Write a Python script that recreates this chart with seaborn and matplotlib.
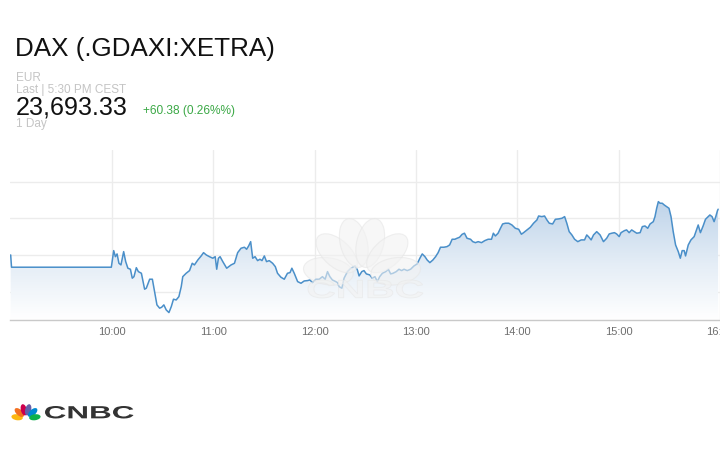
import numpy as np
import pandas as pd
import matplotlib
matplotlib.use("Agg")
import matplotlib.pyplot as plt
import seaborn as sns
import matplotlib.transforms as mtransforms
from matplotlib.colors import LinearSegmentedColormap
from matplotlib.patches import Ellipse, PathPatch, Polygon
from matplotlib.textpath import TextPath
from matplotlib.font_manager import FontProperties

# ---------------- data ----------------
title = "DAX (.GDAXI:XETRA)"
currency = "EUR"
last_label = "Last | 5:30 PM CEST"
last_price = "23,693.33"
change_label = "+60.38 (0.26%%)"
period_label = "1 Day"

# minutes after 09:00
minutes = [0, 0.5, 59.6, 61.0, 62.0, 63.0, 64.1, 65.3, 66.9, 68.1, 69.4, 70.9, 72.0, 73.0, 74.4, 75.6, 77.4,
           79.3, 80.3, 82.3, 83.9, 85.2, 86.6, 88.2, 89.4, 90.7, 92.1, 93.7, 95.1, 96.4, 98.0, 99.6, 101.0,
           101.9, 103.9, 105.9, 107.5, 108.8, 110.8, 112.8, 114.2, 115.8, 117.7, 119.7, 121.1, 122.0, 123.0,
           124.0, 125.6, 127.9, 130.5, 132.5, 134.4, 136.4, 138.4, 139.7, 140.9, 142.1, 143.3, 144.7, 146.2,
           147.6, 148.8, 150.2, 151.5, 153.1, 155.1, 156.7, 158.0, 160.0, 162.0, 163.9, 165.4, 166.5, 167.9,
           169.9, 171.9, 173.8, 175.8, 177.2, 178.7, 180.7, 182.7, 184.6, 186.2, 187.6, 189.0, 190.5, 192.5,
           193.5, 194.5, 196.1, 197.4, 199.4, 201.4, 203.9, 205.3, 206.3, 207.9, 209.2, 210.6, 212.6, 214.1,
           215.7, 217.1, 218.5, 220.1, 222.1, 223.6, 225.0, 226.4, 228.3, 229.9, 231.5, 232.9, 234.8, 236.8,
           238.8, 240.7, 242.3, 243.7, 245.3, 246.6, 248.2, 250.0, 251.6, 253.1, 254.5, 256.5, 258.4, 259.9,
           261.4, 263.0, 264.3, 265.8, 267.3, 268.7, 270.2, 272.3, 273.6, 275.2, 276.8, 278.8, 280.7, 282.7,
           284.7, 285.8, 287.0, 288.6, 290.0, 291.3, 292.9, 294.9, 296.8, 298.8, 300.8, 302.4, 303.7, 305.7,
           307.7, 309.6, 311.6, 312.6, 314.5, 316.1, 317.5, 318.9, 320.9, 322.5, 324.4, 326.4, 328.0, 329.3,
           330.7, 332.3, 333.9, 335.8, 337.8, 339.8, 341.1, 342.1, 343.7, 345.1, 347.0, 349.0, 351.0, 352.9,
           354.4, 355.9, 357.5, 358.8, 360.3, 361.4, 363.4, 364.7, 366.2, 367.7, 369.3, 370.7, 372.7, 374.0,
           375.6, 377.2, 378.6, 380.5, 381.5, 382.5, 383.5, 384.5, 385.8, 387.0, 388.4, 389.8, 391.0, 392.3,
           393.7, 395.3, 396.5, 397.6, 398.8, 399.6, 401.2, 402.8, 404.7, 406.1, 407.1, 408.4, 410.0, 411.4,
           413.0, 414.0, 415.3, 416.5, 417.5, 418.5, 418.9]

prices = [23640.0, 23626.6, 23626.6, 23644.7, 23638.1, 23641.1, 23630.9, 23629.1, 23643.6, 23632.7, 23625.5,
          23624.4, 23614.6, 23616.3, 23626.1, 23621.8, 23620.0, 23602.6, 23603.7, 23613.5, 23613.5, 23600.0,
          23585.5, 23581.9, 23582.9, 23585.5, 23580.0, 23577.1, 23583.6, 23591.7, 23590.9, 23594.5, 23605.4,
          23616.3, 23620.0, 23622.9, 23630.9, 23629.1, 23634.5, 23638.9, 23642.5, 23640.0, 23638.1, 23636.4,
          23638.1, 23624.4, 23636.4, 23638.1, 23632.7, 23625.5, 23629.1, 23630.9, 23642.5, 23647.3, 23648.4,
          23646.2, 23649.8, 23654.5, 23636.4, 23638.1, 23633.8, 23635.3, 23633.8, 23638.9, 23632.7, 23633.8,
          23630.9, 23627.2, 23620.0, 23615.7, 23613.5, 23620.0, 23620.7, 23625.5, 23620.0, 23610.9, 23609.1,
          23611.6, 23612.0, 23612.7, 23609.8, 23613.5, 23613.5, 23616.3, 23613.5, 23621.8, 23616.3, 23612.7,
          23610.9, 23609.8, 23605.4, 23603.7, 23614.6, 23621.8, 23625.5, 23628.0, 23623.6, 23617.1, 23621.8,
          23622.9, 23619.3, 23618.2, 23614.6, 23616.3, 23610.9, 23616.3, 23620.0, 23621.8, 23624.4, 23619.3,
          23620.0, 23621.8, 23624.4, 23622.9, 23624.4, 23622.9, 23624.4, 23628.0, 23630.2, 23636.4, 23641.1,
          23638.1, 23634.5, 23631.6, 23634.5, 23638.1, 23642.5, 23648.4, 23648.4, 23649.1, 23650.9, 23657.1,
          23657.1, 23658.2, 23659.3, 23662.5, 23663.7, 23658.2, 23657.1, 23654.5, 23653.4, 23654.5, 23653.4,
          23655.6, 23657.1, 23657.1, 23663.7, 23660.7, 23663.7, 23669.1, 23673.8, 23674.6, 23674.6, 23672.7,
          23669.1, 23668.0, 23662.6, 23664.3, 23667.3, 23670.2, 23674.6, 23678.2, 23682.5, 23681.8, 23682.5,
          23678.2, 23674.6, 23673.8, 23678.9, 23679.3, 23680.0, 23681.8, 23674.6, 23665.4, 23661.8, 23657.1,
          23654.5, 23656.4, 23656.4, 23661.8, 23660.0, 23656.4, 23661.8, 23665.4, 23661.8, 23654.5, 23658.2,
          23662.9, 23663.7, 23664.3, 23662.9, 23660.0, 23664.3, 23666.5, 23667.3, 23664.3, 23667.3, 23665.4,
          23663.7, 23664.3, 23670.9, 23671.6, 23669.1, 23673.8, 23676.3, 23681.8, 23690.9, 23698.2, 23696.4,
          23696.4, 23694.5, 23692.7, 23690.9, 23681.8, 23665.4, 23650.9, 23643.6, 23636.4, 23644.7, 23644.7,
          23638.9, 23650.9, 23656.4, 23660.0, 23667.3, 23672.7, 23664.3, 23671.6, 23678.9, 23681.8, 23683.6,
          23681.8, 23676.3, 23681.8, 23688.3, 23689.9]

hour_ticks = [60, 120, 180, 240, 300, 360, 420]
hour_labels = ["10:00", "11:00", "12:00", "13:00", "14:00", "15:00", "16:00"]
grid_levels = [23600, 23640, 23680, 23720]

# ---------------- style ----------------
sns.set_theme(style="white")
plt.rcParams["font.family"] = ["Liberation Sans", "DejaVu Sans"]

W, H = 720, 450
fig = plt.figure(figsize=(7.2, 4.5), dpi=100)
fig.patch.set_facecolor("white")
ax = fig.add_axes([10 / W, 130 / H, 710 / W, 170 / H])
ax.set_facecolor("white")

xmin, xmax = -0.4, 419.0
ymin, ymax = 23569.0, 23754.5

df = pd.DataFrame({"minute": minutes, "price": prices})

# gradient fill under the line
cmap = LinearSegmentedColormap.from_list("fill", ["#ffffff", "#e4edf6", "#c2d6eb", "#b3cbe5"])
grad = np.linspace(0, 1, 256).reshape(-1, 1)
im = ax.imshow(grad, extent=[xmin, xmax, ymin, ymax], origin="lower", aspect="auto",
               cmap=cmap, zorder=1, interpolation="bicubic")
verts = [(df.minute.iloc[0], ymin)] + list(zip(df.minute, df.price)) + [(df.minute.iloc[-1], ymin)]
clip = Polygon(verts, closed=True, transform=ax.transData, facecolor="none", edgecolor="none")
ax.add_patch(clip)
im.set_clip_path(clip)

sns.lineplot(data=df, x="minute", y="price", ax=ax, color="#4a8fc9", linewidth=1.1,
             zorder=4, estimator=None, sort=False)

ax.set_xlim(xmin, xmax)
ax.set_ylim(ymin, ymax)
ax.set_xticks(hour_ticks)
ax.set_xticklabels(hour_labels)
ax.set_yticks(grid_levels)
ax.set_yticklabels([])
ax.grid(True, color="#ececec", linewidth=1.0, zorder=0)
ax.set_axisbelow(True)
ax.set_xlabel("")
ax.set_ylabel("")
for s in ["top", "right", "left"]:
    ax.spines[s].set_visible(False)
ax.spines["bottom"].set_color("#c9c9c9")
ax.spines["bottom"].set_linewidth(1.0)
ax.tick_params(axis="x", length=0, pad=5, labelsize=8, labelcolor="#6e6e6e")
ax.tick_params(axis="y", length=0)

# pixel transform (image coords, y down)
pix = mtransforms.Affine2D().scale(1 / W, -1 / H).translate(0, 1) + fig.transFigure


def peacock(target, cx, cy, L, Wd, colors, alpha=1.0, edge="none", z=5, gap=1.0):
    angles = [172, 138, 104, 76, 42, 8]
    for ang, col in zip(angles, colors):
        a = np.deg2rad(ang)
        d = gap + L / 2
        ex, ey = cx + d * np.cos(a), cy - d * np.sin(a)
        e = Ellipse((ex, ey), L, Wd, angle=-ang, transform=pix, facecolor=col,
                    edgecolor=edge, linewidth=0.8, alpha=alpha, zorder=z, clip_on=False)
        target.add_artist(e)


def box_text(target, s, x0, y0, x1, y1, color, alpha=1.0, edge="none", z=5):
    tp = TextPath((0, 0), s, size=1, prop=FontProperties(family="Liberation Sans", weight="bold"))
    bb = tp.get_extents()
    tr = (mtransforms.Affine2D().translate(-bb.x0, -bb.y0)
          .scale((x1 - x0) / bb.width, -(y1 - y0) / bb.height).translate(x0, y1) + pix)
    p = PathPatch(tp, transform=tr, facecolor=color, edgecolor=edge, linewidth=0.6,
                  alpha=alpha, zorder=z, clip_on=False)
    target.add_artist(p)


# watermark
peacock(ax, 362, 276, 50, 27, ["#f2f2f2"] * 6, alpha=0.6, edge="#e6e6e6", z=5, gap=9)
box_text(ax, "CNBC", 308, 280, 423, 298, "#f2f2f2", alpha=0.6, edge="#e6e6e6", z=5)

# header texts
def ftext(x, y, s, **kw):
    fig.text(x / W, 1 - y / H, s, va="baseline", ha="left", **kw)

ftext(15, 56, title, fontsize=18.7, color="#111111")
ftext(16, 81, currency, fontsize=8.5, color="#c4c4c4")
ftext(16, 92.7, last_label, fontsize=8.5, color="#c4c4c4")
ftext(15.5, 114.3, last_price, fontsize=18.1, color="#111111")
ftext(142.7, 114.3, change_label, fontsize=8.6, color="#3aa845")
ftext(16, 126.5, period_label, fontsize=8.5, color="#c4c4c4")

# CNBC logo bottom-left
overlay = fig.add_axes([0, 0, 1, 1], zorder=10)
overlay.set_axis_off()
overlay.patch.set_alpha(0)
peacock(overlay, 26, 418.5, 11.5, 6.0,
        ["#fcb711", "#f37021", "#cc004c", "#6460aa", "#0089d0", "#0db14b"], z=5, gap=3.2)
box_text(overlay, "CNBC", 45, 406, 133.5, 418.5, "#333333", z=5)

fig.savefig("out.png", dpi=100, facecolor="white")
